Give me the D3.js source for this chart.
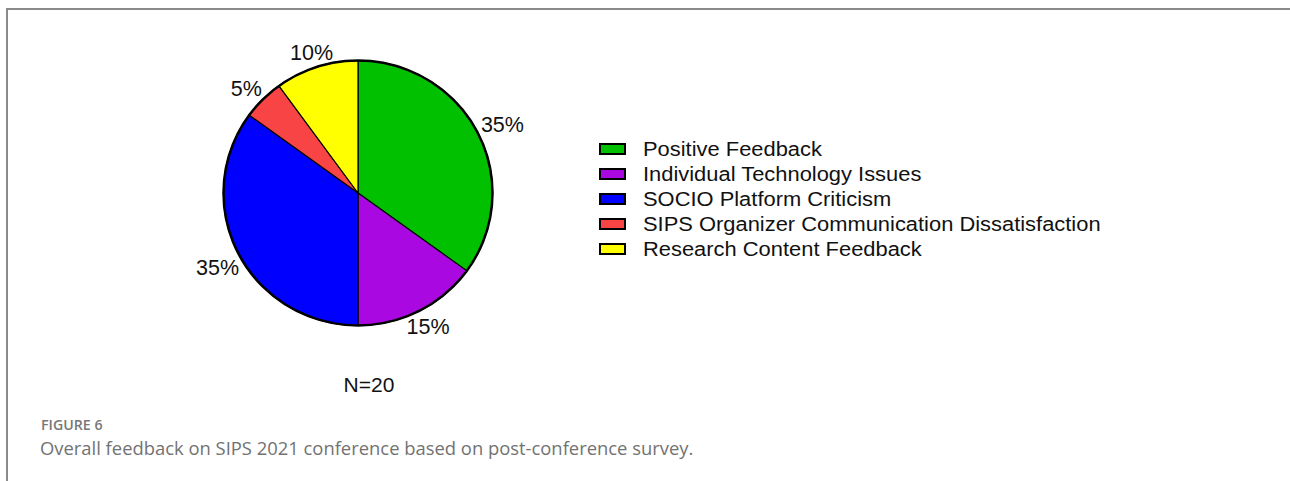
<!DOCTYPE html>
<html>
<head>
<meta charset="utf-8">
<script src="https://cdn.jsdelivr.net/npm/d3@7"></script>
<style>
  html, body { margin: 0; padding: 0; background: #fff; }
  svg { display: block; }
</style>
</head>
<body>
<svg id="chart" width="1290" height="481"></svg>
<script>
// Feedback categories and their share of responses (%), N = 20
const categories = [
  "Positive Feedback",
  "Individual Technology Issues",
  "SOCIO Platform Criticism",
  "SIPS Organizer Communication Dissatisfaction",
  "Research Content Feedback"
];
const shares = [35, 15, 35, 5, 10];
const colors = ["#00c000", "#aa08e0", "#0000ff", "#f84444", "#ffff00"];
const sampleLabel = "N=20";
const figureLabel = "FIGURE 6";
const captionText = "Overall feedback on SIPS 2021 conference based on post-conference survey.";

const svg = d3.select("#chart");

// panel frame (top and left rules)
svg.append("path")
  .attr("d", "M7,481 V9 H1290")
  .attr("fill", "none")
  .attr("stroke", "#8a8a8a")
  .attr("stroke-width", 2);

const data = categories.map((c, i) => ({ name: c, value: shares[i], color: colors[i] }));

const cx = 358, cy = 193, rx = 134.5, ry = 132.5;

const pie = d3.pie().sort(null).value(d => d.value);
const arcs = pie(data);
const arc = d3.arc().innerRadius(0).outerRadius(rx);
const labelArc = d3.arc().innerRadius(rx + 22).outerRadius(rx + 22);

const g = svg.append("g")
  .attr("transform", `translate(${cx},${cy}) scale(1,${ry / rx})`);

g.selectAll("path.slice")
  .data(arcs)
  .join("path")
  .attr("class", "slice")
  .attr("d", arc)
  .attr("fill", d => d.data.color)
  .attr("stroke", "#000")
  .attr("stroke-width", 1.2)
  .attr("vector-effect", "non-scaling-stroke");

// heavier outer rim
g.append("ellipse")
  .attr("rx", rx).attr("ry", rx)
  .attr("fill", "none")
  .attr("stroke", "#000")
  .attr("stroke-width", 2.5)
  .attr("vector-effect", "non-scaling-stroke");

// percentage labels just outside each slice
const labelOffsets = [[5, 2], [-1, -3], [-1, 5], [-1, 5], [2, 7]];
svg.append("g")
  .selectAll("text")
  .data(arcs)
  .join("text")
  .attr("x", (d, i) => cx + labelArc.centroid(d)[0] + labelOffsets[i][0])
  .attr("y", (d, i) => cy + labelArc.centroid(d)[1] * (ry / rx) + labelOffsets[i][1])
  .attr("text-anchor", "middle")
  .attr("dominant-baseline", "central")
  .attr("font-family", "'Liberation Sans', Arial, sans-serif")
  .attr("font-size", 21.5)
  .attr("fill", "#111")
  .text(d => d.data.value + "%");

// N label
svg.append("text")
  .attr("x", 369).attr("y", 392)
  .attr("text-anchor", "middle")
  .attr("font-family", "'Liberation Sans', Arial, sans-serif")
  .attr("font-size", 21)
  .attr("fill", "#111")
  .text(sampleLabel);

// legend
const legendY = d3.scalePoint().domain(categories).range([149, 249]);
const legend = svg.append("g");
const rows = legend.selectAll("g")
  .data(data)
  .join("g")
  .attr("transform", d => `translate(0,${legendY(d.name)})`);
rows.append("rect")
  .attr("x", 600).attr("y", -5)
  .attr("width", 25).attr("height", 10)
  .attr("fill", d => d.color)
  .attr("stroke", "#000")
  .attr("stroke-width", 2);
rows.append("text")
  .attr("transform", "translate(643,0) scale(1.095,1)")
  .attr("dominant-baseline", "central")
  .attr("font-family", "'Liberation Sans', Arial, sans-serif")
  .attr("font-size", 20)
  .attr("fill", "#111")
  .text(d => d.name);

// figure caption
svg.append("text")
  .attr("x", 41).attr("y", 430)
  .attr("font-family", "'Open Sans', sans-serif")
  .attr("font-size", 14.2)
  .attr("font-weight", 600)
  .attr("fill", "#777")
  .text(figureLabel);
svg.append("text")
  .attr("x", 40).attr("y", 455)
  .attr("font-family", "'Open Sans', sans-serif")
  .attr("font-size", 18.4)
  .attr("fill", "#727272")
  .text(captionText);
</script>
</body>
</html>
